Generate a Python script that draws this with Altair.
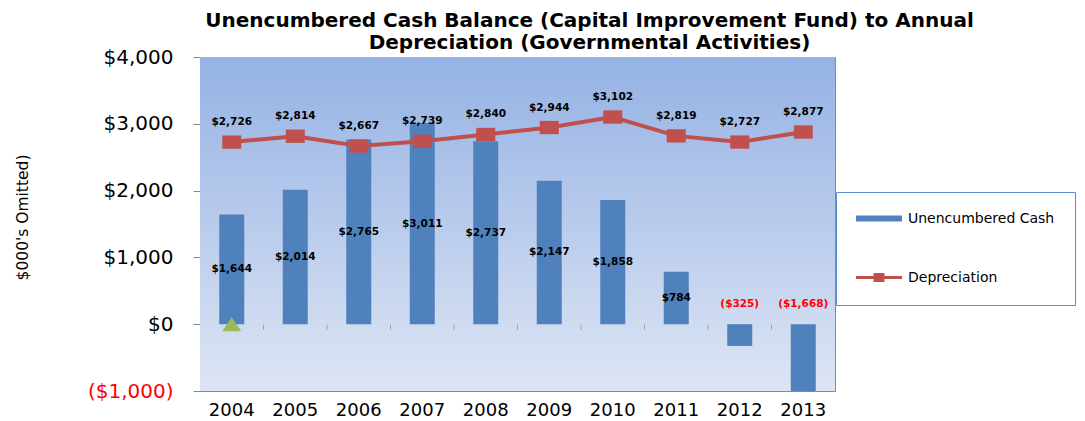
import altair as alt
import pandas as pd

years = ["2004", "2005", "2006", "2007", "2008", "2009", "2010", "2011", "2012", "2013"]
cash = [1644, 2014, 2765, 3011, 2737, 2147, 1858, 784, -325, -1668]
depreciation = [2726, 2814, 2667, 2739, 2840, 2944, 3102, 2819, 2727, 2877]
marker_years = ["2004"]
marker_values = [0]
series_names = ["Unencumbered Cash", "Depreciation"]
series_colors = ["#4f81bd", "#c0504d"]
y_ticks = [-1000, 0, 1000, 2000, 3000, 4000]
title_lines = ["Unencumbered Cash Balance (Capital Improvement Fund) to Annual",
               "Depreciation (Governmental Activities)"]
y_title = "$000's Omitted)"

FONT = "DejaVu Sans"
GRAY = "#8a8a8a"
W, H = 635, 334

RECT_MARK = "M-1,-0.7H1V0.7H-1Z"
TRI_MARK = "M0,-0.74L1,0.74L-1,0.74Z"
BAR_SWATCH = "M-1,-0.13H1V0.13H-1Z"
LINE_SWATCH = ("M-1,-0.07H-0.24V-0.2H0.24V-0.07H1V0.07H0.24V0.2H-0.24V0.07H-1Z")

df = pd.DataFrame({"year": years, "cash": cash, "dep": depreciation})
mk = pd.DataFrame({"year": marker_years, "val": marker_values})
lg = pd.DataFrame({"series": series_names})
bounds = pd.DataFrame({"year": years[1:]})

xscale = alt.Scale(domain=years, paddingInner=0, paddingOuter=0)
xaxis = alt.Axis(title=None, labelAngle=0, ticks=False, domain=False, grid=False,
                 labelFontSize=18, labelFont=FONT, labelColor="black", labelPadding=10)
x = alt.X("year:N", sort=years, scale=xscale, axis=xaxis)

yscale = alt.Scale(domain=[-1000, 4000], nice=False, zero=False)
yaxis = alt.Axis(
    values=y_ticks, title=y_title,
    labelExpr="datum.value < 0 ? '($' + format(-datum.value, ',') + ')' : '$' + format(datum.value, ',')",
    labelColor=alt.condition("datum.value < 0", alt.value("#ff0000"), alt.value("#000000")),
    labelFont=FONT, labelFontSize=20, labelPadding=20,
    tickSize=7, tickColor=GRAY, domainColor=GRAY, gridColor=GRAY, gridWidth=1,
    titleFont=FONT, titleFontSize=15.5, titleFontWeight="normal", titleColor="black",
    titleX=-178, titleY=160, titleAngle=270, titleAlign="center", titleBaseline="middle",
)

gradient = alt.LinearGradient(gradient="linear", x1=0, x2=0, y1=0, y2=1,
                              stops=[alt.GradientStop(color="#95b2e4", offset=0),
                                     alt.GradientStop(color="#dde5f4", offset=1)])
bg = alt.Chart(mk).mark_rect(color=gradient).encode(
    x=alt.value(0), x2=alt.value(W), y=alt.value(0), y2=alt.value(H))

base = alt.Chart(df)

bars = base.mark_bar(size=25, color="#4f81bd", clip=True).encode(
    x=x, y=alt.Y("cash:Q", scale=yscale, axis=yaxis))

ticks = alt.Chart(bounds).mark_tick(orient="vertical", size=5, thickness=1, color=GRAY, yOffset=3).encode(
    x=alt.X("year:N", bandPosition=0), y=alt.datum(0))

line = base.mark_line(color="#c0504d", strokeWidth=4).encode(x=x, y=alt.Y("dep:Q"))
pts = base.mark_point(shape=RECT_MARK, size=361, filled=True, color="#c0504d", opacity=1).encode(
    x=x, y=alt.Y("dep:Q"))
tri = alt.Chart(mk).mark_point(shape=TRI_MARK, size=361, filled=True, color="#9bbb59", opacity=1).encode(
    x=x, y=alt.Y("val:Q"))

lblstyle = dict(font=FONT, fontSize=10.5, fontWeight="bold", baseline="middle", align="center")

dep_labels = base.transform_calculate(
    lbl="'$' + format(datum.dep, ',')"
).mark_text(dy=-20, color="black", **lblstyle).encode(x=x, y=alt.Y("dep:Q"), text="lbl:N")

pos_labels = base.transform_filter("datum.cash > 0").transform_calculate(
    mid="datum.cash / 2", lbl="'$' + format(datum.cash, ',')"
).mark_text(color="black", **lblstyle).encode(x=x, y=alt.Y("mid:Q"), text="lbl:N")

neg_labels = base.transform_filter("datum.cash < 0").transform_calculate(
    zero="0", lbl="'($' + format(-datum.cash, ',') + ')'"
).mark_text(dy=-20, color="#ff0000", **lblstyle).encode(x=x, y=alt.Y("zero:Q"), text="lbl:N")

legend = alt.Legend(
    title=None, orient="none", legendX=636, legendY=135,
    padding=20, clipHeight=13, rowPadding=44, labelOffset=6,
    labelFont=FONT, labelFontSize=14, labelColor="black",
    symbolSize=2116, symbolStrokeWidth=0, symbolOpacity=1,
    strokeColor="#5b8bc9", fillColor="white",
)
leg = alt.Chart(lg).mark_point(filled=True, opacity=0).encode(
    color=alt.Color("series:N", sort=series_names,
                    scale=alt.Scale(domain=series_names, range=series_colors), legend=legend),
    shape=alt.Shape("series:N", sort=series_names,
                    scale=alt.Scale(domain=series_names, range=[BAR_SWATCH, LINE_SWATCH]), legend=legend),
)

chart = alt.layer(bg, bars, ticks, line, pts, tri, dep_labels, pos_labels, neg_labels, leg).properties(
    width=W, height=H,
    padding={"left": 7, "top": 3, "right": 0, "bottom": 0},
    title=alt.TitleParams(text=title_lines, font=FONT, fontSize=20, fontWeight="bold", color="black",
                          anchor="middle", frame="group", dx=72, offset=-6, lineHeight=22),
).configure_view(stroke=GRAY, strokeWidth=1)

chart.save("out.html", embed_options={"renderer": "svg", "actions": False})
